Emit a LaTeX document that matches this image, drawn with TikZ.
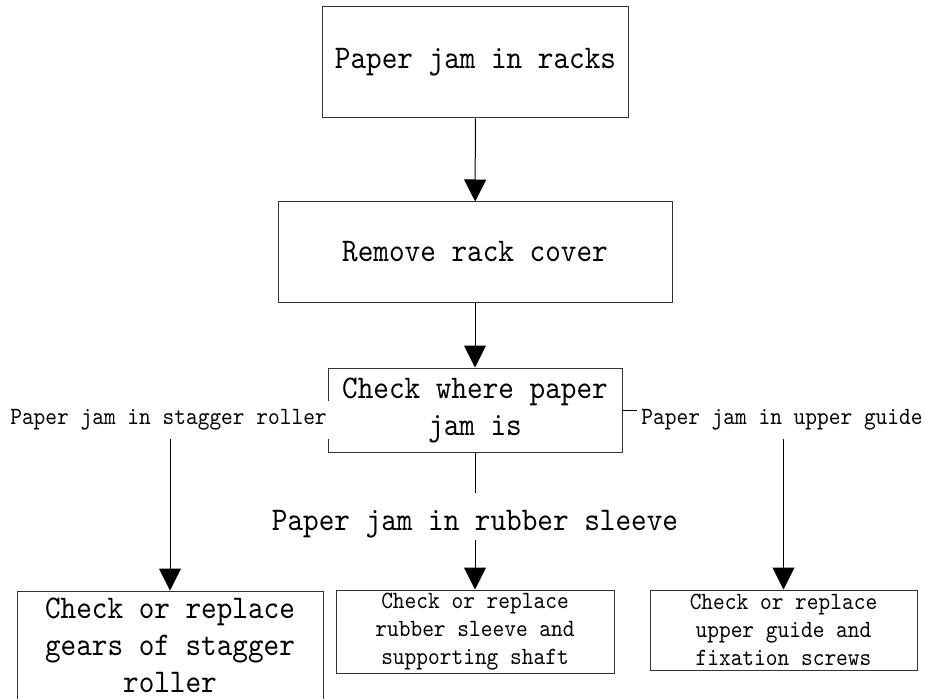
\documentclass[tikz,border=0pt]{standalone}
\usepackage{fontspec}
\newfontfamily\jamfont[FakeStretch=0.9]{lmmono10-regular.otf}
\usetikzlibrary{positioning}
\usetikzlibrary{arrows.meta}

\begin{document}
\begin{tikzpicture}[x=0.75pt, y=-0.75pt,
	jambox/.style={draw=black!80, line width=0.75pt, align=center, inner sep=0pt, font=\jamfont\fontsize{24.8}{27.75}\selectfont},
	smallbox/.style={jambox, font=\jamfont\fontsize{18.6}{21}\selectfont},
	branchlbl/.style={fill=white, inner xsep=3pt, inner ysep=0pt, minimum height=28.5pt, font=\jamfont\fontsize{18.6}{21}\selectfont},
	flow/.style={-{Triangle[length=16.5pt, width=16.5pt]}, line width=0.75pt}]
	\useasboundingbox (0,0) rectangle (926,699);

	\node [jambox, minimum width=229.5pt, minimum height=83.25pt] (racks) at (475.5,62.5) {Paper jam in racks};
	\node [jambox, minimum width=295.5pt, minimum height=75pt] (cover) at (475,252) {Remove rack cover};
	\draw[flow] (racks) -- (cover);
	\node [jambox, minimum width=220.5pt, minimum height=63pt] (where) at (475,410) {Check where paper\\jam is};
	\draw[flow] (cover) -- (where);

	\node [branchlbl] (staggerjam) at (168.5,420) {Paper jam in stagger roller};
	\node [branchlbl] (guidejam) at (782,420) {Paper jam in upper guide};
	\node [anchor=base, inner sep=0pt, text height=27.75pt, text depth=7.5pt, font=\jamfont\fontsize{24.8}{27.75}\selectfont] (sleevejam) at (475,530) {Paper jam in rubber sleeve};

	\node [jambox, minimum width=229.5pt, minimum height=81pt] (gears) at (170,645) {Check or replace\\gears of stagger\\roller};
	\node [smallbox, minimum width=208.5pt, minimum height=62.25pt] (sleeve) at (475,631.5) {Check or replace\\rubber sleeve and\\supporting shaft};
	\node [smallbox, minimum width=200.25pt, minimum height=60pt] (guide) at (783.5,630) {Check or replace\\upper guide and\\fixation screws};

	\draw[flow] (staggerjam.south -| gears.north) -- (gears.north);
	\draw[line width=0.75pt] (where.east) -- (where.east -| guidejam.west);
	\draw[flow] (guidejam.south -| guide.north) -- (guide.north);
	\draw[line width=0.75pt] (where) -- (sleevejam);
	\draw[flow] (sleevejam) -- (sleeve);
\end{tikzpicture}
\end{document}
